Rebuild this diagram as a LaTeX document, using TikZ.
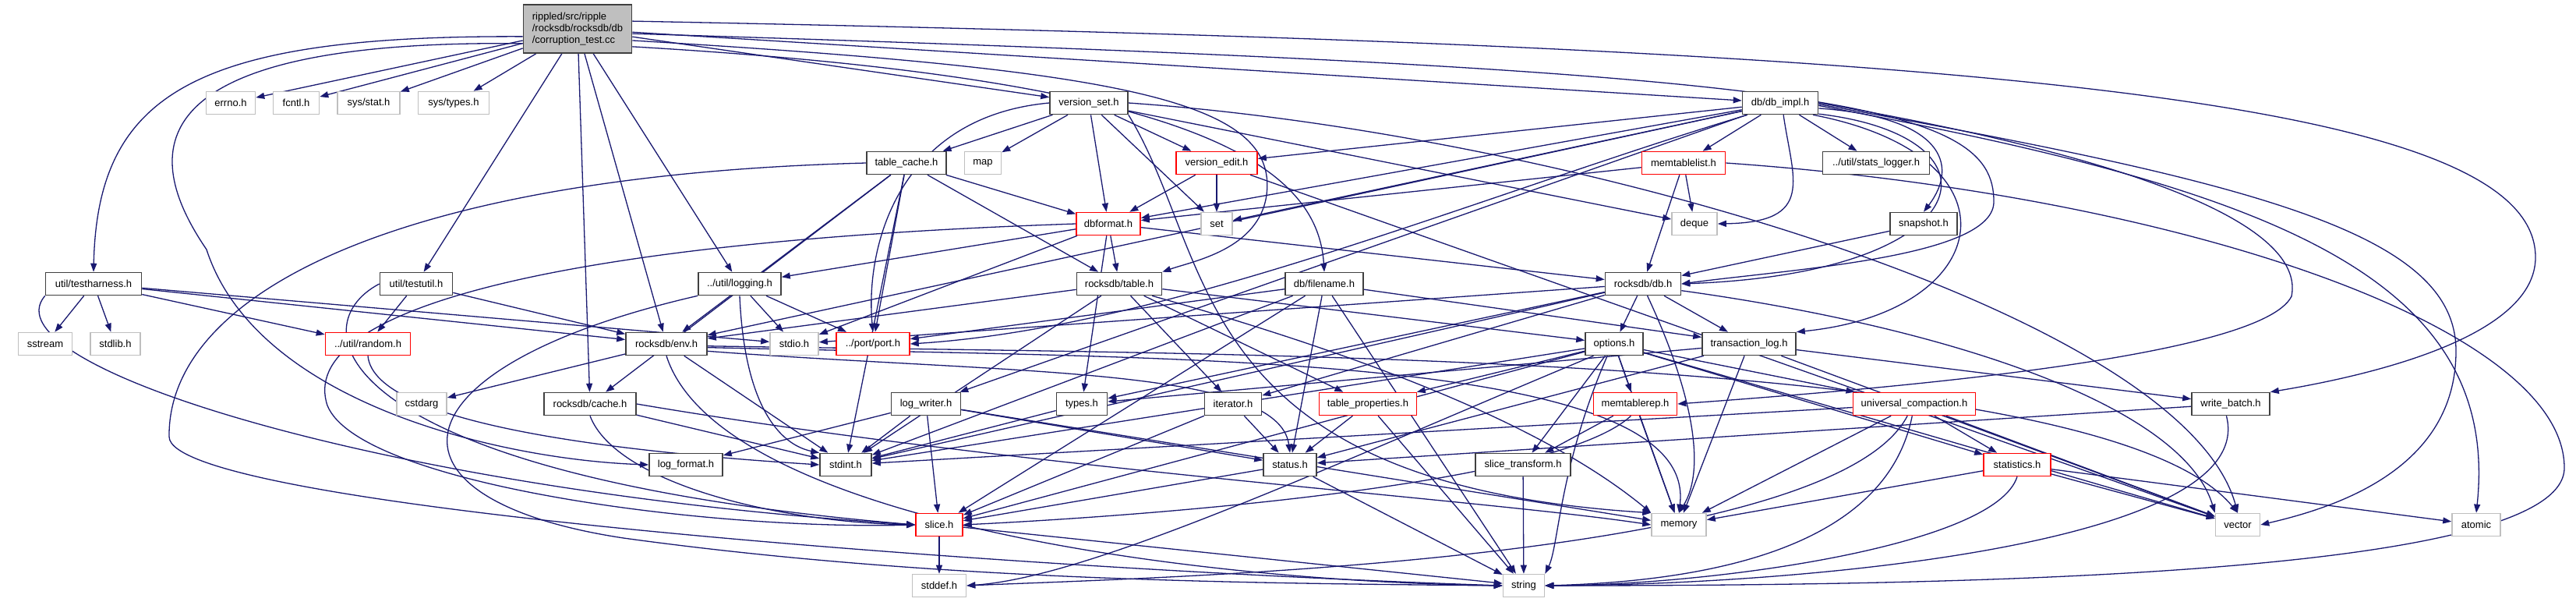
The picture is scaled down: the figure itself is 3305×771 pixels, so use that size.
\documentclass[tikz,border=0pt]{standalone}
\usepackage{fontspec}
\setmainfont{Liberation Sans}
\usetikzlibrary{arrows.meta}
\definecolor{edgec}{HTML}{191970}
\definecolor{grayb}{HTML}{BFBFBF}
\definecolor{darkb}{HTML}{404040}
\pgfdeclarelayer{background}
\pgfsetlayers{background,main}
\begin{document}
\begin{tikzpicture}[x=1pt,y=-1pt,
  box/.style={draw, line width=1.6pt, minimum height=29pt, inner sep=0pt, fill=white, font=\fontsize{13}{15}\selectfont},
  bk/.style={box, draw=darkb},
  rd/.style={box, draw=red},
  gr/.style={box, draw=grayb},
  edg/.style={draw=edgec, line width=1.3pt, -{Triangle[length=11pt,width=8pt]}}]
\useasboundingbox (0,0) rectangle (3305,771);
% row 0
\node[box, draw=darkb, fill=grayb, minimum width=139pt, minimum height=62pt, align=left] (R) at (741,37) {rippled/src/ripple\\/rocksdb/rocksdb/db\\/corruption\_test.cc};
% row 1
\node[gr, minimum width=63pt] (errno) at (296,132) {errno.h};
\node[gr, minimum width=59pt] (fcntl) at (380,132) {fcntl.h};
\node[gr, minimum width=80pt] (sysstat) at (473,132) {sys/stat.h};
\node[gr, minimum width=91pt] (systypes) at (582,132) {sys/types.h};
\node[bk, minimum width=100pt] (vs) at (1397,132) {version\_set.h};
\node[bk, minimum width=97pt] (di) at (2284,132) {db/db\_impl.h};
% row 2
\node[bk, minimum width=102pt] (tc) at (1163,209) {table\_cache.h};
\node[gr, minimum width=47pt] (map) at (1261,209) {map};
\node[rd, minimum width=104pt] (ve) at (1561,209) {version\_edit.h};
\node[rd, minimum width=107pt] (mtl) at (2160,209) {memtablelist.h};
\node[bk, minimum width=137pt] (sl) at (2407,209) {../util/stats\_logger.h};
% row 3
\node[rd, minimum width=82pt] (dbf) at (1422,287) {dbformat.h};
\node[gr, minimum width=40pt] (set) at (1561,287) {set};
\node[gr, minimum width=58pt] (deque) at (2174,287) {deque};
\node[bk, minimum width=86pt] (snap) at (2468,287) {snapshot.h};
% row 4
\node[bk, minimum width=123pt] (th) at (120,364) {util/testharness.h};
\node[bk, minimum width=93pt] (tu) at (534,364) {util/testutil.h};
\node[bk, minimum width=106pt] (lg) at (949,364) {../util/logging.h};
\node[bk, minimum width=109pt] (tbl) at (1436,364) {rocksdb/table.h};
\node[bk, minimum width=100pt] (fn) at (1699,364) {db/filename.h};
\node[bk, minimum width=97pt] (db) at (2108,364) {rocksdb/db.h};
% row 5
\node[gr, minimum width=69pt] (sstream) at (58,441) {sstream};
\node[gr, minimum width=64pt] (stdlib) at (148,441) {stdlib.h};
\node[rd, minimum width=109pt] (rnd) at (472,441) {../util/random.h};
\node[bk, minimum width=104pt] (env) at (855,441) {rocksdb/env.h};
\node[gr, minimum width=62pt] (stdio) at (1019,441) {stdio.h};
\node[rd, minimum width=94pt] (port) at (1120,441) {../port/port.h};
\node[bk, minimum width=74pt] (opt) at (2071,441) {options.h};
\node[bk, minimum width=120pt] (tl) at (2244,441) {transaction\_log.h};
% row 6
\node[gr, minimum width=64pt] (cstdarg) at (541,518) {cstdarg};
\node[bk, minimum width=118pt] (cache) at (757,518) {rocksdb/cache.h};
\node[bk, minimum width=89pt] (lw) at (1188,518) {log\_writer.h};
\node[bk, minimum width=65pt] (types) at (1388,518) {types.h};
\node[bk, minimum width=73pt] (iter) at (1582,518) {iterator.h};
\node[rd, minimum width=125pt] (tp) at (1755,518) {table\_properties.h};
\node[rd, minimum width=107pt] (mtr) at (2098,518) {memtablerep.h};
\node[rd, minimum width=157pt] (uc) at (2456,518) {universal\_compaction.h};
\node[bk, minimum width=100pt] (wb) at (2862,518) {write\_batch.h};
% row 7
\node[bk, minimum width=94pt] (lf) at (880,596) {log\_format.h};
\node[bk, minimum width=66pt] (stdint) at (1085,596) {stdint.h};
\node[bk, minimum width=68pt] (status) at (1655,596) {status.h};
\node[bk, minimum width=122pt] (st) at (1954,596) {slice\_transform.h};
\node[rd, minimum width=86pt] (stats) at (2588,596) {statistics.h};
% row 8
\node[rd, minimum width=60pt] (slice) at (1205,673) {slice.h};
\node[gr, minimum width=70pt] (memory) at (2154,673) {memory};
\node[gr, minimum width=57pt] (vector) at (2871,673) {vector};
\node[gr, minimum width=62pt] (atomic) at (3177,673) {atomic};
% row 9
\node[gr, minimum width=69pt] (stddef) at (1205,751) {stddef.h};
\node[gr, minimum width=53pt] (string) at (1955,751) {string};

\begin{pgfonlayer}{background}
% root
\draw[edg] (R.188) .. controls (250,45) and (125,120) .. (th.north);
\draw[edg] (R.195) .. controls (150,50) and (190,210) .. (265,320) .. controls (330,520) and (650,590) .. (lf.west);
\foreach \t in {errno,fcntl,sysstat,systypes,tu,cache,env,lg,vs,di} \draw[edg] (R) -- (\t);
\draw[edg] (R.-12) .. controls (1450,90) and (1640,130) .. (1625,250) .. controls (1615,320) and (1530,335) .. (tbl.north east);
\draw[edg] (R.-18) .. controls (1500,100) and (1690,200) .. (fn.north);
\draw[edg] (R.8) .. controls (2500,60) and (3253,120) .. (3253,330) .. controls (3253,430) and (3050,480) .. (wb.north east);
\draw[edg] (R.-5) .. controls (2350,90) and (2560,130) .. (2558,260) .. controls (2555,330) and (2300,345) .. (db.east);
% testharness
\foreach \t in {sstream,stdlib,rnd,env,stdio} \draw[edg] (th) -- (\t);
\draw[edg] (th.south west) .. controls (-20,470) and (500,630) .. (slice.west);
% testutil
\foreach \t in {rnd,env} \draw[edg] (tu) -- (\t);
\draw[edg] (tu.west) .. controls (380,420) and (430,610) .. (slice.west);
% random
\draw[edg] (rnd.south) .. controls (480,545) and (800,580) .. (stdint.west);
% logging
\foreach \t in {stdio,port} \draw[edg] (lg) -- (\t);
\draw[edg] (lg.south) .. controls (955,520) and (1000,570) .. (stdint.north west);
\draw[edg] (lg.south west) .. controls (500,470) and (470,640) .. (800,690) .. controls (1200,745) and (1600,748) .. (string.west);
% cache
\draw[edg] (cache) -- (stdint);
\draw[edg] (cache.east) .. controls (1300,600) and (1900,640) .. (memory.west);
\draw[edg] (cache.south) .. controls (790,620) and (1000,670) .. (slice.west);
% env
\foreach \t in {cstdarg,stdint} \draw[edg] (env) -- (\t);
\draw[edg] (env.-10) .. controls (1300,480) and (1640,470) .. (status.north);
\draw[edg] (env.-5) .. controls (1500,460) and (2180,450) .. (memory.north);
\draw[edg] (env.-3) .. controls (1600,455) and (2700,450) .. (vector.north);
\draw[edg] (env.south) .. controls (920,660) and (1500,745) .. (string.west);
% filename
\foreach \t in {port,stdint,slice,status,tl,string} \draw[edg] (fn) -- (\t);
% version_set
\foreach \t in {tc,map,dbf,set,ve,deque} \draw[edg] (vs) -- (\t);
\draw[edg] (vs.west) .. controls (1150,150) and (1110,320) .. (port.north);
\draw[edg] (vs.south east) .. controls (1560,330) and (1520,620) .. (memory.north west);
\draw[edg] (vs.east) .. controls (2000,170) and (2800,400) .. (vector.north);
% table_cache
\foreach \t in {dbf,tbl,port,env,stdint,cache} \draw[edg] (tc) -- (\t);
\draw[edg] (tc.west) .. controls (500,225) and (215,380) .. (217,560) .. controls (217,650) and (1300,730) .. (string.west);
% version_edit
\foreach \t in {dbf,set,vector} \draw[edg] (ve) -- (\t);
% memtablelist
\foreach \t in {deque,db,dbf} \draw[edg] (mtl) -- (\t);
\draw[edg] (mtl.east) .. controls (2800,250) and (3290,420) .. (3290,600) .. controls (3290,740) and (2500,751) .. (string.east);
% db_impl
\foreach \t in {sl,mtl,set,ve,dbf,env,lw} \draw[edg] (di) -- (\t);
\draw[edg] (di.-8) .. controls (2490,150) and (2515,210) .. (snap.north);
\draw[edg] (di.-75) .. controls (2300,230) and (2330,285) .. (deque.east);
\draw[edg] (di.-16) .. controls (2580,175) and (2545,350) .. (db.east);
\draw[edg] (di.-20) .. controls (2600,200) and (2560,400) .. (tl.north east);
\draw[edg] (di.200) .. controls (1900,250) and (1500,420) .. (port.east);
\draw[edg] (di.east) .. controls (2900,230) and (2950,330) .. (2940,380) .. controls (2900,460) and (2400,500) .. (mtr.east);
\draw[edg] (di.-4) .. controls (2900,240) and (3210,350) .. (atomic.north);
\draw[edg] (di.-2) .. controls (2900,235) and (3151,300) .. (3151,450) .. controls (3151,600) and (3000,650) .. (vector.east);
% snapshot
\draw[edg] (snap) -- (db);
% dbformat
\foreach \t in {db,tbl,types,lg,stdio} \draw[edg] (dbf) -- (\t);
\draw[edg] (dbf.west) .. controls (700,310) and (380,400) .. (420,520) .. controls (460,620) and (900,680) .. (slice.west);
% rocksdb/table
\foreach \t in {env,iter,tp,opt,stdint} \draw[edg] (tbl) -- (\t);
\draw[edg] (tbl.-20) .. controls (1800,470) and (2000,560) .. (memory.north west);
% rocksdb/db
\foreach \t in {opt,tl,stdio,iter,types,stdint} \draw[edg] (db) -- (\t);
\draw[edg] (db.-70) .. controls (2170,500) and (2190,600) .. (memory.north);
\draw[edg] (db.-10) .. controls (2500,420) and (2800,520) .. (vector.north west);
% options
\foreach \t in {mtr,tp,uc,stats,st,stdint,memory,vector,slice} \draw[edg] (opt) -- (\t);
\draw[edg] (opt.-150) .. controls (1700,600) and (1400,740) .. (stddef.east);
\draw[edg] (opt.-120) .. controls (2000,600) and (2000,700) .. (string.north east);
% transaction_log
\foreach \t in {wb,status,types,memory,vector} \draw[edg] (tl) -- (\t);
% log_writer
\foreach \t in {lf,stdint,slice,status,memory} \draw[edg] (lw) -- (\t);
% small ones
\draw[edg] (types) -- (stdint);
\foreach \t in {slice,status} \draw[edg] (iter) -- (\t);
\foreach \t in {status,string} \draw[edg] (tp) -- (\t);
\foreach \t in {st,memory} \draw[edg] (mtr) -- (\t);
\draw[edg] (mtr.-110) .. controls (2000,620) and (1500,660) .. (slice.east);
% universal
\foreach \t in {stats,vector,memory,stdint} \draw[edg] (uc) -- (\t);
\draw[edg] (uc.-100) .. controls (2420,700) and (2200,745) .. (string.east);
\draw[edg] (uc.-120) .. controls (2350,720) and (1500,740) .. (stddef.east);
% statistics
\foreach \t in {atomic,vector,memory} \draw[edg] (stats) -- (\t);
\draw[edg] (stats.south) .. controls (2560,700) and (2200,750) .. (string.east);
% write_batch
\draw[edg] (wb) -- (status);
\draw[edg] (wb.-110) .. controls (2900,700) and (2300,750) .. (string.east);
% others
\draw[edg] (st) -- (string);
\foreach \t in {slice,string} \draw[edg] (status) -- (\t);
\foreach \t in {stddef,string} \draw[edg] (slice) -- (\t);
\end{pgfonlayer}
\end{tikzpicture}
\end{document}
